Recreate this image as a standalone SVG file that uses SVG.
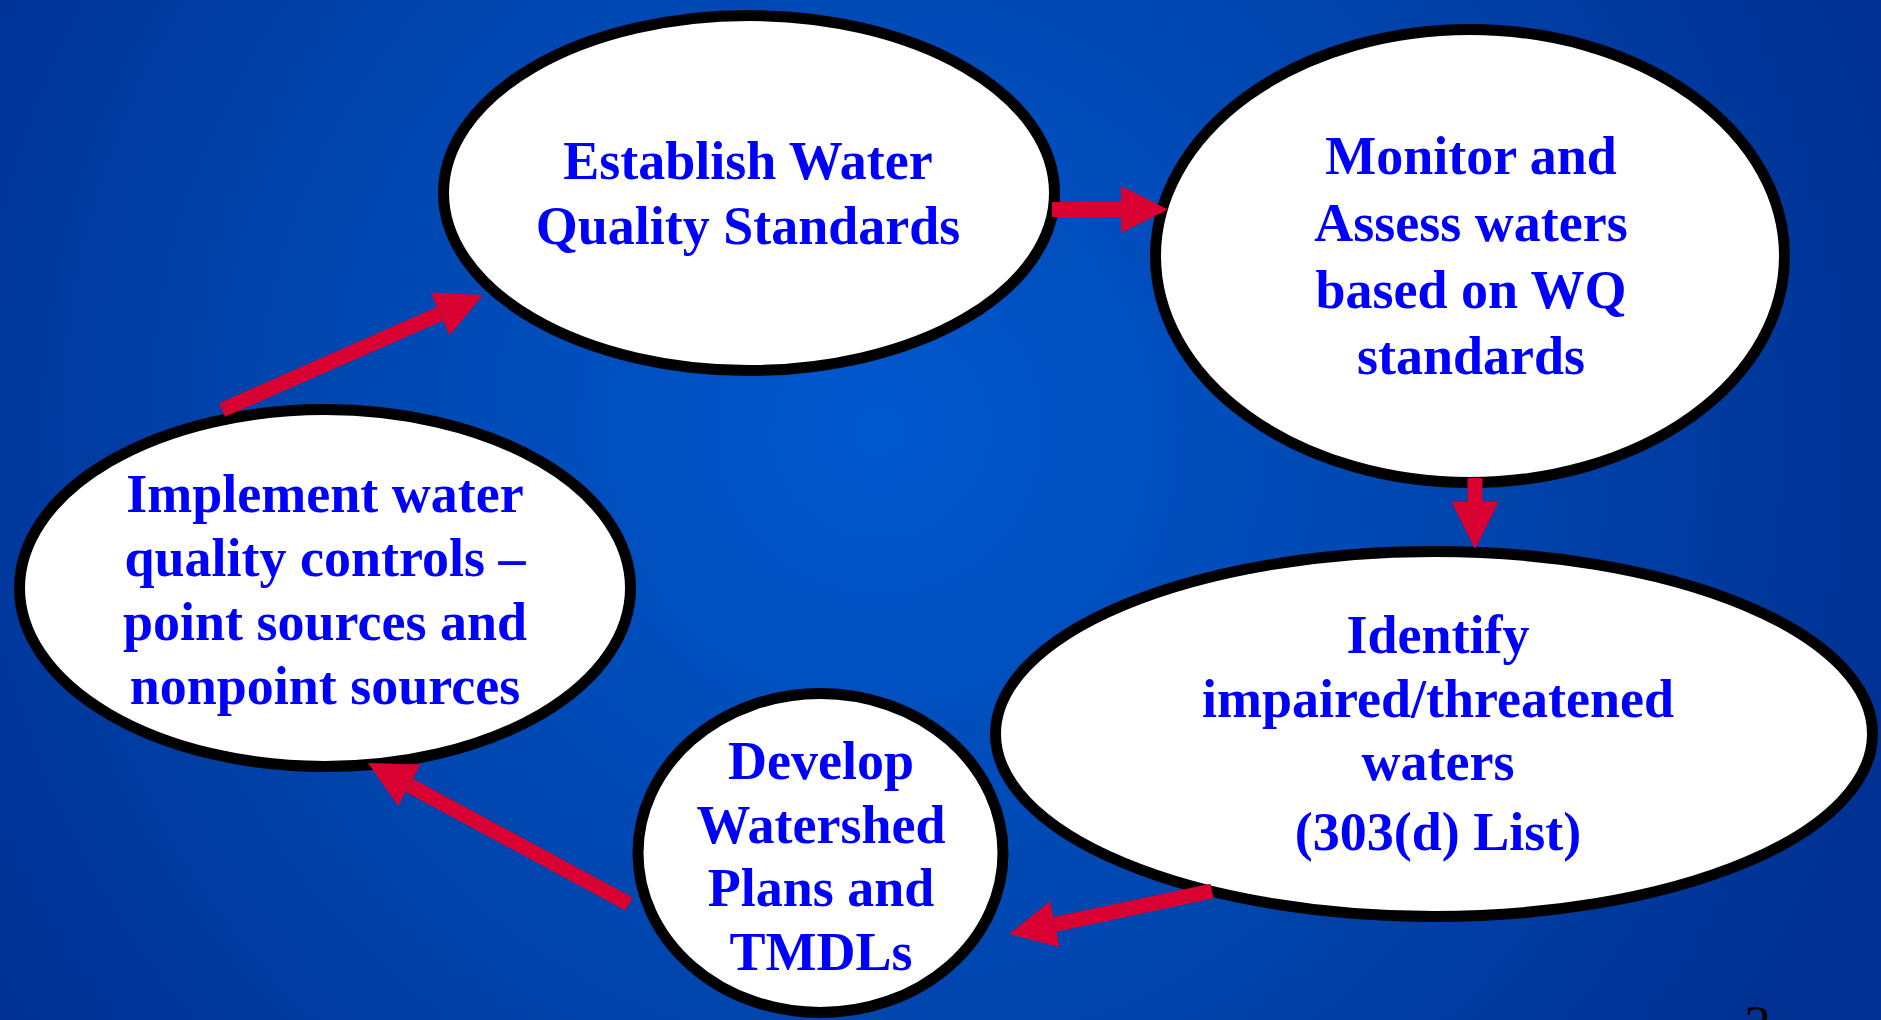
<svg xmlns="http://www.w3.org/2000/svg" width="1881" height="1020" viewBox="0 0 1881 1020">
  <defs>
    <radialGradient id="bg" gradientUnits="userSpaceOnUse" cx="880" cy="430" r="1060">
      <stop offset="0" stop-color="#0058CD"/>
      <stop offset="0.55" stop-color="#0045AE"/>
      <stop offset="1" stop-color="#003193"/>
    </radialGradient>
    <marker id="head" viewBox="0 -23.5 47 47" refX="0" refY="0" markerUnits="userSpaceOnUse" markerWidth="47" markerHeight="47" orient="auto">
      <path d="M0,-23.5 L47,0 L0,23.5 Z" fill="#D90032"/>
    </marker>
    <style>
      .node ellipse { fill: #FFFFFF; stroke: #000000; stroke-width: 11; }
      .node text { font-family: "Liberation Serif", "Times New Roman", serif; font-weight: bold; font-size: 54px; fill: #0000FF; text-anchor: middle; }
      .arrow { stroke: #D90032; stroke-width: 15; stroke-linecap: butt; fill: none; marker-end: url(#head); }
      .pageno { font-family: "Liberation Serif", "Times New Roman", serif; font-size: 54px; fill: #000000; }
    </style>
  </defs>

  <!-- slide background -->
  <rect x="0" y="0" width="1881" height="1020" fill="url(#bg)"/>

  <!-- process steps -->
  <g id="establish-standards" class="node">
    <ellipse cx="749" cy="193" rx="305.5" ry="177.5"/>
    <text x="748" y="179">Establish Water</text>
    <text x="748" y="244">Quality Standards</text>
  </g>

  <g id="monitor-assess" class="node">
    <ellipse cx="1470" cy="256" rx="314.5" ry="226.5"/>
    <text x="1471" y="174">Monitor and</text>
    <text x="1471" y="241">Assess waters</text>
    <text x="1471" y="308">based on WQ</text>
    <text x="1471" y="374">standards</text>
  </g>

  <g id="identify-impaired" class="node">
    <ellipse cx="1434" cy="734" rx="438.5" ry="182.5"/>
    <text x="1438" y="653">Identify</text>
    <text x="1438" y="717">impaired/threatened</text>
    <text x="1438" y="780">waters</text>
    <text x="1438" y="850">(303(d) List)</text>
  </g>

  <g id="develop-plans" class="node">
    <ellipse cx="820.5" cy="853" rx="182.5" ry="159.5"/>
    <text x="821" y="779">Develop</text>
    <text x="821" y="843">Watershed</text>
    <text x="821" y="906">Plans and</text>
    <text x="821" y="970">TMDLs</text>
  </g>

  <g id="implement-controls" class="node">
    <ellipse cx="325" cy="588" rx="305.5" ry="178.5"/>
    <text x="325" y="512">Implement water</text>
    <text x="325" y="576">quality controls –</text>
    <text x="325" y="640">point sources and</text>
    <text x="325" y="704">nonpoint sources</text>
  </g>

  <!-- cycle connectors: each line ends at the arrowhead base -->
  <g id="connectors">
    <line class="arrow" x1="1052" y1="209.5" x2="1121" y2="209.5"/>
    <line class="arrow" x1="1475" y1="478" x2="1475" y2="502"/>
    <line class="arrow" x1="1212" y1="891" x2="1055" y2="924.3"/>
    <line class="arrow" x1="629" y1="904" x2="409.4" y2="785.3"/>
    <line class="arrow" x1="222" y1="410" x2="440" y2="313.9"/>
  </g>

  <!-- page number, mostly below the slide edge -->
  <text class="pageno" x="1744" y="1043">3</text>
</svg>
